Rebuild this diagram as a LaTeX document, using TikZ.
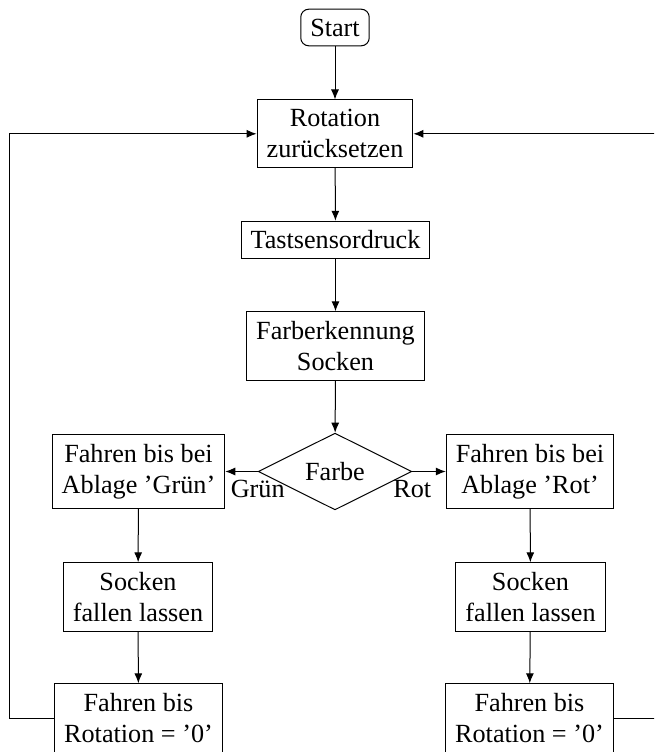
\documentclass[tikz,border=0pt]{standalone}
\usepackage{fontspec}
\setmainfont{Liberation Serif}
\usetikzlibrary{shapes.geometric,arrows.meta}
\begin{document}
\begin{tikzpicture}[x=1pt,y=-1pt,
  txt/.style={font=\fontsize{26.2pt}{31pt}\selectfont},
  box/.style={txt,draw,line width=1pt,inner sep=9.5pt,align=center},
  startbox/.style={box,rounded corners=8pt},
  decision/.style={txt,draw,diamond,aspect=2,line width=1pt,inner sep=9.5pt,minimum width=150pt,minimum height=75pt},
  arr/.style={-{Latex[length=10pt,width=8pt]},line width=1pt},
  lbl/.style={txt,inner sep=8pt}]
\clip (0,0) rectangle (654,752);
\node[startbox] (start) at (335,27.5) {Start};
\node[box] (rot) at (335,133.8) {Rotation\\zurücksetzen};
\node[box] (tast) at (335.5,240) {Tastsensordruck};
\node[box] (farb) at (335.5,346) {Farberkennung\\Socken};
\node[decision] (dia) at (335,471.5) {Farbe};
\node[box] (lg) at (138.5,471.5) {Fahren bis bei\\Ablage ’Grün’};
\node[box] (rg) at (530,471.5) {Fahren bis bei\\Ablage ’Rot’};
\node[box] (ls) at (138,597) {Socken\\fallen lassen};
\node[box] (rs) at (530.5,597) {Socken\\fallen lassen};
\node[box] (lb) at (138.5,718) {Fahren bis\\Rotation = ’0’};
\node[box] (rb) at (529.5,718) {Fahren bis\\Rotation = ’0’};
\coordinate (lc1) at (9,0);
\coordinate (rc1) at (662,0);
\draw[arr] (start) -- (rot);
\draw[arr] (rot) -- (tast);
\draw[arr] (tast) -- (farb);
\draw[arr] (farb) -- (dia);
\draw[arr] (dia.west) -- node[lbl,pos=0,below]{Grün} (lg.east);
\draw[arr] (dia.east) -- node[lbl,pos=0,below]{Rot} (rg.west);
\draw[arr] (lg) -- (ls);
\draw[arr] (rg) -- (rs);
\draw[arr] (ls) -- (lb);
\draw[arr] (rs) -- (rb);
\draw[arr] (lb.west) -- (lb.west -| lc1) -- (rot.west -| lc1) -- (rot.west);
\draw[arr] (rb.east) -- (rb.east -| rc1) -- (rot.east -| rc1) -- (rot.east);
\end{tikzpicture}
\end{document}
